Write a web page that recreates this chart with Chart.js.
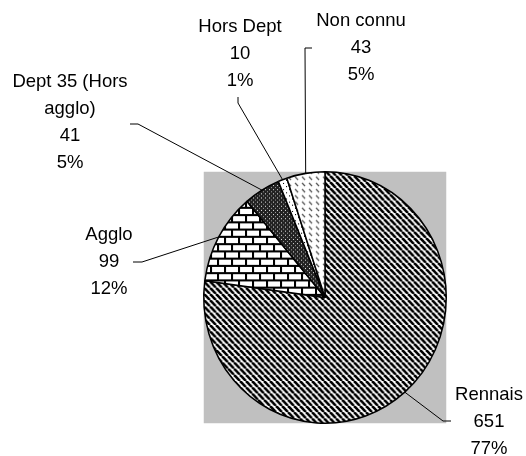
<!DOCTYPE html>
<html>
<head>
<meta charset="utf-8">
<script src="https://cdn.jsdelivr.net/npm/chart.js"></script>
<style>
  body { margin: 0; background: #fff; }
  canvas { display: block; }
</style>
</head>
<body>
<canvas id="pieChart" width="526" height="456"></canvas>
<script>
// data
const categories = ['Rennais', 'Agglo', 'Dept 35 (Hors agglo)', 'Hors Dept', 'Non connu'];
const counts = [651, 99, 41, 10, 43];

// where each label block sits (centre x, first line y) and its leader elbow / tick end
const labelBoxes = [
    {x: 489, y: 395, elbow: [443, 421], tick: [451, 421]},
    {x: 109, y: 235, elbow: [142, 262], tick: [133, 262]},
    {x: 70,  y: 82,  elbow: [138, 124], tick: [130, 124]},
    {x: 240, y: 27,  elbow: [238, 103], tick: [238, 97]},
    {x: 361, y: 21,  elbow: [305, 48],  tick: [312, 48]}
];

const squash = 1.037;   // the original pie is a bit taller than wide
const lineH = 27;
const fontSpec = '18.5px "Liberation Sans", Arial, sans-serif';

function tile(w, h, draw){
    const c = document.createElement('canvas');
    c.width = w; c.height = h;
    const g = c.getContext('2d');
    draw(g, w, h);
    return document.getElementById('pieChart').getContext('2d').createPattern(c, 'repeat');
}

// diagonal stripes
const stripes = tile(6, 6, (g, w, h) => {
    g.fillStyle = '#fff'; g.fillRect(0, 0, w, h);
    g.strokeStyle = '#000'; g.lineWidth = 2.6;
    [-6, 0, 6].forEach(o => {
        g.beginPath(); g.moveTo(o, 0); g.lineTo(o + 6, 6); g.stroke();
    });
});
// bricks
const bricks = tile(14, 14, (g) => {
    g.fillStyle = '#000'; g.fillRect(0, 0, 14, 14);
    g.fillStyle = '#fff';
    g.fillRect(2, 2, 12, 5);
    g.fillRect(9, 9, 12, 5);
    g.fillRect(-5, 9, 12, 5);
});
// dark crosshatch
const hatch = tile(4, 4, (g) => {
    g.fillStyle = '#222'; g.fillRect(0, 0, 4, 4);
    g.fillStyle = '#e0e0e0'; g.fillRect(1, 1, 1, 1);
    g.fillStyle = '#9a9a9a'; g.fillRect(3, 3, 1, 1);
});
// sparse dots
const dots = tile(6, 6, (g) => {
    g.fillStyle = '#fff'; g.fillRect(0, 0, 6, 6);
    g.fillStyle = '#000';
    g.fillRect(1, 1, 1, 1);
    g.fillRect(4, 4, 1, 1);
});
// small dashes
const dashes = tile(7, 6, (g) => {
    g.fillStyle = '#fff'; g.fillRect(0, 0, 7, 6);
    g.strokeStyle = '#555'; g.lineWidth = 1.2;
    g.beginPath(); g.moveTo(1, 1); g.lineTo(4, 4); g.stroke();
});

function wrap(ctx, text, maxW){
    const words = text.split(' ');
    const lines = [];
    let cur = '';
    words.forEach(w => {
        const test = cur ? cur + ' ' + w : w;
        if (cur && ctx.measureText(test).width > maxW){
            lines.push(cur);
            cur = w;
        } else {
            cur = test;
        }
    });
    lines.push(cur);
    return lines;
}

const stretchPlugin = {
    id: 'stretch',
    beforeDatasetsDraw(chart){
        const arc = chart.getDatasetMeta(0).data[0];
        const ctx = chart.ctx;
        const r = arc.outerRadius;
        ctx.save();
        ctx.translate(arc.x, arc.y);
        ctx.scale(1, squash);
        ctx.translate(-arc.x, -arc.y);
        ctx.fillStyle = '#c0c0c0';
        ctx.fillRect(arc.x - r, arc.y - r, 2 * r, 2 * r);
    },
    afterDatasetsDraw(chart){
        const ctx = chart.ctx;
        ctx.restore();
        const total = counts.reduce((a, b) => a + b, 0);
        ctx.save();
        ctx.font = fontSpec;
        ctx.fillStyle = '#000';
        ctx.strokeStyle = '#000';
        ctx.lineWidth = 1;
        ctx.textAlign = 'center';
        ctx.textBaseline = 'middle';
        chart.getDatasetMeta(0).data.forEach((arc, i) => {
            const box = labelBoxes[i];
            const mid = (arc.startAngle + arc.endAngle) / 2;
            const px = arc.x + arc.outerRadius * Math.cos(mid);
            const py = arc.y + arc.outerRadius * Math.sin(mid) * squash;
            ctx.beginPath();
            ctx.moveTo(px, py);
            ctx.lineTo(box.elbow[0], box.elbow[1]);
            ctx.lineTo(box.tick[0], box.tick[1]);
            ctx.stroke();

            const lines = wrap(ctx, categories[i], 124);
            lines.push(String(counts[i]));
            lines.push(Math.round(counts[i] / total * 100) + '%');
            lines.forEach((t, k) => {
                ctx.fillText(t, box.x, box.y + k * lineH);
            });
        });
        ctx.restore();
    }
};

const data = {
    labels: categories,
    datasets: [{
        data: counts,
        backgroundColor: [stripes, bricks, hatch, dots, dashes],
        borderColor: '#000',
        borderWidth: 1.5,
        clip: false
    }]
};

const config = {
    type: 'pie',
    data: data,
    options: {
        responsive: false,
        animation: false,
        layout: {
            padding: {left: 203, right: 79, top: 175.5, bottom: 36.5}
        },
        plugins: {
            legend: {display: false},
            tooltip: {enabled: false}
        }
    },
    plugins: [stretchPlugin]
};

const pieChart = new Chart(document.getElementById('pieChart').getContext('2d'), config);
</script>
</body>
</html>
